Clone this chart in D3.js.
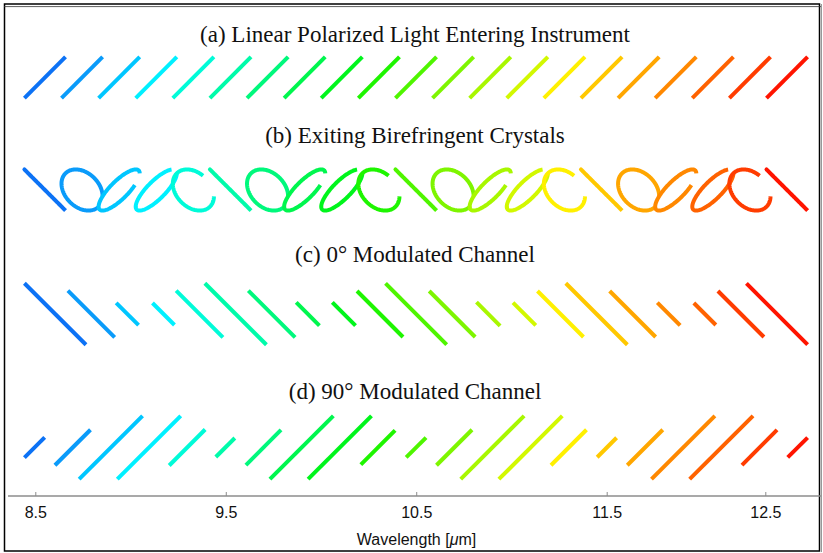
<!DOCTYPE html>
<html>
<head>
<meta charset="utf-8">
<script src="https://cdn.jsdelivr.net/npm/d3@7"></script>
<style>
  html, body { margin: 0; padding: 0; background: #fff; }
  svg { display: block; }
</style>
</head>
<body>
<svg id="chart" width="823" height="553"></svg>
<script>
// Wavelength (µm) of each polarization glyph
const wavelengths = [8.55, 8.745, 8.94, 9.135, 9.33, 9.525, 9.72, 9.915, 10.11, 10.305,
  10.5, 10.695, 10.89, 11.085, 11.28, 11.475, 11.67, 11.865, 12.06, 12.255, 12.45];

// Glyph colour per wavelength, blue (short) to red (long)
const glyphColors = ["#0c72f5", "#0a9bfa", "#00c6ff", "#00f0ff", "#00fbd8", "#00fbaa", "#00f87c",
  "#00f64e", "#00f51c", "#1ef500", "#4ff500", "#7ef500", "#a8f700", "#d2f800", "#fff000",
  "#ffc800", "#ffa600", "#ff8800", "#ff6200", "#ff3c00", "#ff1400"];

// Phase retardance between the two field components after the crystals (degrees)
const retardance = [180, 252, 324, 36, 108, 180, 252, 324, 36, 108,
  180, 252, 324, 36, 108, 180, 252, 324, 36, 108, 180];

// Part of the oscillation cycle traced for each exit ellipse (degrees)
const traceStart = [0, 0, 0, 0, 0, 0, 0, 0, 0, 0, 0, 0, 0, 0, 0, 0, 0, 0, 0, 0, 0];
const traceEnd = [320, 320, 321, 318, 298, 320, 320, 321, 318, 298, 320,
  320, 321, 318, 298, 320, 320, 321, 318, 298, 320];

// Field amplitude reaching each analyser channel (input amplitude = 1)
const channel0 = [1.54, 1.17, 0.56, 0.55, 1.17, 1.54, 1.17, 0.58, 0.58, 1.15,
  1.53, 1.15, 0.59, 0.57, 1.15, 1.54, 1.15, 0.57, 0.55, 1.15, 1.53];
const channel90 = [0.48, 0.84, 1.5, 1.5, 0.85, 0.45, 0.83, 1.5, 1.5, 0.81,
  0.47, 0.84, 1.5, 1.5, 0.84, 0.46, 0.84, 1.5, 1.5, 0.83, 0.47];

// Wavelength axis
const tickValues = [8.5, 9.5, 10.5, 11.5, 12.5];
const tickLabels = ["8.5", "9.5", "10.5", "11.5", "12.5"];

const panelTitles = [
  "(a) Linear Polarized Light Entering Instrument",
  "(b) Exiting Birefringent Crystals",
  "(c) 0\u00B0 Modulated Channel",
  "(d) 90\u00B0 Modulated Channel"
];

// ---------------------------------------------------------------- layout
const svg = d3.select("#chart");
const FIELD_UM = 0.108;            // glyph size: wavelength span of one unit of field
const glyphRange = [24.4, 807.6];  // horizontal extent shared by every panel
const panels = [
  { title: 0, titleY: 41.7, cy: 77.5 },
  { title: 1, titleY: 143,  cy: 190 },
  { title: 2, titleY: 262,  cy: 314 },
  { title: 3, titleY: 399,  cy: 447.5 }
];
const axisY = 496;

// frame
svg.append("rect")
  .attr("x", 4.5).attr("y", 4).attr("width", 815).attr("height", 547)
  .attr("fill", "none").attr("stroke", "#000").attr("stroke-width", 1.5);
svg.append("line").attr("x1", 4).attr("x2", 822).attr("y1", 6.6).attr("y2", 6.6)
  .attr("stroke", "#333").attr("stroke-width", 0.8);
svg.append("line").attr("x1", 821.5).attr("x2", 821.5).attr("y1", 4).attr("y2", 552)
  .attr("stroke", "#999").attr("stroke-width", 1);

// Each panel is fitted to the shared width from the extent of its own glyphs
function panelScale(halfWidths) {
  const lo = d3.min(wavelengths, (w, i) => w - halfWidths[i] * FIELD_UM);
  const hi = d3.max(wavelengths, (w, i) => w + halfWidths[i] * FIELD_UM);
  const x = d3.scaleLinear().domain([lo, hi]).range(glyphRange);
  const k = FIELD_UM * (glyphRange[1] - glyphRange[0]) / (hi - lo); // px per field unit
  return { x, k };
}

const line = d3.line();

function drawPanel(p, halfWidths, shapeOf) {
  const { x, k } = panelScale(halfWidths);
  const ex = d3.scaleLinear().domain([-1, 1]).range([-k, k]);
  const ey = d3.scaleLinear().domain([-1, 1]).range([k, -k]);
  const g = svg.append("g");
  g.selectAll("path")
    .data(wavelengths.map((w, i) => ({ w, i })))
    .join("path")
    .attr("transform", d => `translate(${x(d.w)},${p.cy})`)
    .attr("d", d => line(shapeOf(d.i).map(([u, v]) => [ex(u), ey(v)])))
    .attr("fill", "none")
    .attr("stroke", d => glyphColors[d.i])
    .attr("stroke-width", 4)
    .attr("stroke-linecap", "butt")
    .attr("stroke-linejoin", "round");
  svg.append("text")
    .attr("x", 415).attr("y", p.titleY)
    .attr("text-anchor", "middle")
    .attr("font-family", "'Liberation Serif', 'Times New Roman', serif")
    .attr("font-size", 23)
    .attr("fill", "#111")
    .text(panelTitles[p.title]);
}

const ones = wavelengths.map(() => 1);
const rad = Math.PI / 180;

// (a) input light: linear at +45°
drawPanel(panels[0], ones, () => [[-1, -1], [1, 1]]);

// (b) exit ellipse: Ex = cos t, Ey = cos(t + retardance)
drawPanel(panels[1], ones, i => {
  const d = retardance[i] * rad;
  return d3.range(traceStart[i], traceEnd[i] + 0.5, 2)
    .map(t => [Math.cos(t * rad), Math.cos(t * rad + d)]);
});

// (c) 0° channel: along -45°
drawPanel(panels[2], channel0, i => [[-channel0[i], channel0[i]], [channel0[i], -channel0[i]]]);

// (d) 90° channel: along +45°
drawPanel(panels[3], channel90, i => [[-channel90[i], -channel90[i]], [channel90[i], channel90[i]]]);

// ---------------------------------------------------------------- axis
const axisX = d3.scaleLinear().domain([8.5, 11.5, 12.5]).range([35.3, 606.7, 765.3]);

svg.append("line")
  .attr("x1", 8).attr("x2", 821).attr("y1", axisY).attr("y2", axisY)
  .attr("stroke", "#8c8c8c").attr("stroke-width", 1.3);

const axisG = svg.append("g")
  .attr("transform", `translate(0,${axisY})`)
  .call(d3.axisBottom(axisX)
    .tickValues(tickValues)
    .tickFormat((d, i) => tickLabels[i])
    .tickSizeInner(-4)
    .tickSizeOuter(0));
axisG.select(".domain").remove();
axisG.selectAll(".tick line").attr("stroke", "#8c8c8c").attr("stroke-width", 1);
axisG.selectAll(".tick text")
  .attr("y", 22).attr("dy", 0)
  .attr("fill", "#111")
  .attr("font-family", "'Liberation Sans', Arial, sans-serif")
  .attr("font-size", 16);

const xlab = svg.append("text")
  .attr("x", 416.5).attr("y", 545)
  .attr("text-anchor", "middle")
  .attr("font-family", "'Liberation Sans', Arial, sans-serif")
  .attr("font-size", 16)
  .attr("fill", "#111");
xlab.append("tspan").text("Wavelength [");
xlab.append("tspan").attr("font-style", "italic").text("\u03BC");
xlab.append("tspan").text("m]");
</script>
</body>
</html>
